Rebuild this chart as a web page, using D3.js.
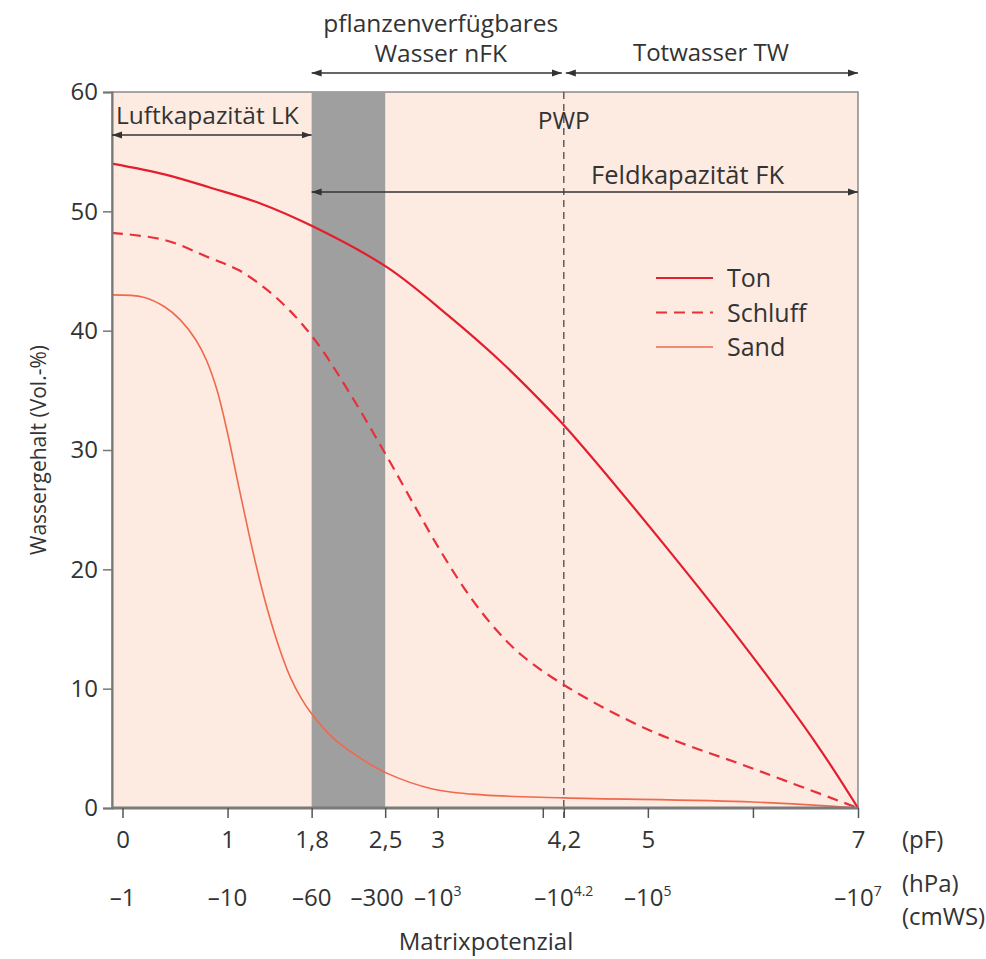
<!DOCTYPE html>
<html>
<head>
<meta charset="utf-8">
<script src="https://cdn.jsdelivr.net/npm/d3@7"></script>
<style>
  body { margin: 0; background: #fff; }
  svg text { font-family: "Open Sans", sans-serif; fill: #333; }
</style>
</head>
<body>
<div id="myChart"></div>
<script>
// pF values and water content (Vol.-%)
const tonPF = [-0.1, 0.4, 0.83, 1.3, 1.82, 2.52, 3.11, 3.59, 4.07, 4.24, 5.18, 5.97, 6.61, 7.0];
const tonVal = [54.0, 53.1, 52.0, 50.7, 48.7, 45.3, 41.2, 37.5, 33.3, 31.7, 21.8, 13.0, 5.3, 0.0];

const schluffPF = [-0.1, 0.4, 0.83, 1.1, 1.35, 1.59, 1.85, 2.16, 2.52, 2.8, 3.05, 3.3, 3.55, 3.8, 4.24, 5.02, 5.97, 7.0];
const schluffVal = [48.2, 47.6, 46.1, 45.1, 43.6, 41.7, 39.0, 34.8, 29.4, 25.0, 21.2, 17.8, 15.0, 12.8, 10.1, 6.5, 3.4, 0.0];

const sandPF = [-0.1, 0.2, 0.4, 0.55, 0.7, 0.8, 0.9, 1.0, 1.1, 1.2, 1.3, 1.4, 1.5, 1.6, 1.7, 1.8, 2.0, 2.26, 2.52, 2.95, 3.43, 4.2, 6.0, 7.0];
const sandVal = [43.0, 42.8, 42.0, 40.9, 39.2, 37.5, 35.0, 31.4, 27.2, 23.1, 19.3, 16.0, 13.2, 10.9, 9.2, 7.9, 5.9, 4.2, 2.9, 1.6, 1.1, 0.85, 0.5, 0.0];

const seriesNames = ["Ton", "Schluff", "Sand"];

// axis ticks
const pfTicks = [0, 1, 1.8, 2.5, 3, 4, 4.2, 5, 6, 7];
const pfLabels = ["0", "1", "1,8", "2,5", "3", "", "4,2", "5", "", "7"];
const hpaBase = ["\u20131", "\u201310", "\u201360", "\u2013300", "\u201310", "", "\u201310", "\u201310", "", "\u201310"];
const hpaExp = ["", "", "", "", "3", "", "4.2", "5", "", "7"];
const yTicks = [0, 10, 20, 30, 40, 50, 60];

// zones along pF
const bandFrom = 1.8, bandTo = 2.5, pwp = 4.2, pfEnd = 7;

const width = 986;
const height = 959;
const plotLeft = 112, plotRight = 858, plotTop = 92, plotBottom = 808;

const colors = { Ton: "#e31e2d", Schluff: "#e8303a", Sand: "#f0694c" };
const dashes = { Ton: null, Schluff: "11,7", Sand: null };
const widths = { Ton: 2.2, Schluff: 2.2, Sand: 1.6 };

const x = d3.scaleLinear().domain([-0.1, 7]).range([plotLeft, plotRight]);
const y = d3.scaleLinear().domain([0, 60]).range([plotBottom, plotTop]);

const svg = d3.select("#myChart")
    .append("svg")
    .attr("width", width)
    .attr("height", height);

// arrowheads
const defs = svg.append("defs");
defs.append("marker")
    .attr("id", "head")
    .attr("viewBox", "0 0 10 10")
    .attr("refX", 10).attr("refY", 5)
    .attr("markerWidth", 10).attr("markerHeight", 10)
    .attr("markerUnits", "userSpaceOnUse")
    .attr("orient", "auto-start-reverse")
    .append("path")
    .attr("d", "M0,1.5 L10,5 L0,8.5 Z")
    .attr("fill", "#333");

// plot background
svg.append("rect")
    .attr("x", plotLeft).attr("y", plotTop)
    .attr("width", plotRight - plotLeft).attr("height", plotBottom - plotTop)
    .attr("fill", "#fdebe2")
    .attr("stroke", "#8a8a8a")
    .attr("stroke-width", 1.5);

// nFK band
svg.append("rect")
    .attr("x", x(bandFrom)).attr("y", plotTop)
    .attr("width", x(bandTo) - x(bandFrom)).attr("height", plotBottom - plotTop)
    .attr("fill", "#9f9f9f");

// PWP line
svg.append("line")
    .attr("x1", x(pwp)).attr("x2", x(pwp))
    .attr("y1", plotTop).attr("y2", plotBottom + 10)
    .attr("stroke", "#555")
    .attr("stroke-width", 1.4)
    .attr("stroke-dasharray", "7,5");

// curves
const line = d3.line()
    .x(d => x(d[0]))
    .y(d => y(d[1]))
    .curve(d3.curveCatmullRom.alpha(0.5));

const series = [
    { name: "Ton", data: d3.zip(tonPF, tonVal) },
    { name: "Schluff", data: d3.zip(schluffPF, schluffVal) },
    { name: "Sand", data: d3.zip(sandPF, sandVal) }
];

svg.selectAll(".curve")
    .data(series)
    .enter().append("path")
    .attr("class", "curve")
    .attr("d", d => line(d.data))
    .attr("fill", "none")
    .attr("stroke", d => colors[d.name])
    .attr("stroke-width", d => widths[d.name])
    .attr("stroke-dasharray", d => dashes[d.name]);

// y axis
const yAxis = svg.append("g")
    .attr("transform", `translate(${plotLeft},0)`)
    .call(d3.axisLeft(y).tickValues(yTicks).tickSize(9).tickPadding(5));
yAxis.select(".domain").attr("stroke", "#777").attr("stroke-width", 2);
yAxis.selectAll(".tick line").attr("stroke", "#777").attr("stroke-width", 1.5);
yAxis.selectAll(".tick text").style("font-size", "24px").attr("fill", "#333");

svg.append("text")
    .attr("transform", "translate(46,450) rotate(-90)")
    .attr("text-anchor", "middle")
    .style("font-size", "21px")
    .text("Wassergehalt (Vol.-%)");

// x axis (pF)
const xAxis = svg.append("g")
    .attr("transform", `translate(0,${plotBottom})`)
    .call(d3.axisBottom(x).tickValues(pfTicks)
        .tickFormat((d, i) => pfLabels[i])
        .tickSize(10).tickPadding(13));
xAxis.select(".domain").attr("d", `M${plotLeft},0H${plotRight}`).attr("stroke", "#7a7a7a").attr("stroke-width", 3);
xAxis.selectAll(".tick line").attr("stroke", "#555").attr("stroke-width", 1.5);
xAxis.selectAll(".tick text").style("font-size", "24px").attr("fill", "#333");

// hPa row
const hpa = svg.selectAll(".hpa")
    .data(pfTicks)
    .enter().append("text")
    .attr("class", "hpa")
    .attr("x", (d, i) => x(d) + (i === 3 ? -8 : 0))
    .attr("y", 906)
    .attr("text-anchor", "middle")
    .style("font-size", "24px");
hpa.append("tspan").text((d, i) => hpaBase[i]);
hpa.append("tspan")
    .attr("dy", -10)
    .style("font-size", "14px")
    .text((d, i) => hpaExp[i]);

// unit labels
svg.append("text").attr("x", 902).attr("y", 848).style("font-size", "24px").text("(pF)");
svg.append("text").attr("x", 902).attr("y", 892).style("font-size", "24px").text("(hPa)");
svg.append("text").attr("x", 902).attr("y", 925).style("font-size", "24px").text("(cmWS)");
svg.append("text")
    .attr("x", 486).attr("y", 950)
    .attr("text-anchor", "middle")
    .style("font-size", "24px")
    .text("Matrixpotenzial");

// range arrows
function arrow(x1, x2, yy) {
    svg.append("line")
        .attr("x1", x1).attr("x2", x2)
        .attr("y1", yy).attr("y2", yy)
        .attr("stroke", "#333")
        .attr("stroke-width", 1.6)
        .attr("marker-start", "url(#head)")
        .attr("marker-end", "url(#head)");
}
arrow(x(bandFrom), x(pwp) - 2, 73);
arrow(x(pwp) + 2, x(pfEnd), 73);
arrow(plotLeft, x(bandFrom), 135);
arrow(x(bandFrom), x(pfEnd), 192);

const midN = (x(bandFrom) + x(pwp)) / 2;
svg.append("text").attr("x", midN + 3).attr("y", 32).attr("text-anchor", "middle")
    .style("font-size", "24.5px").text("pflanzenverfügbares");
svg.append("text").attr("x", midN + 3).attr("y", 62).attr("text-anchor", "middle")
    .style("font-size", "24.5px").text("Wasser nFK");
svg.append("text").attr("x", (x(pwp) + x(pfEnd)) / 2).attr("y", 61).attr("text-anchor", "middle")
    .style("font-size", "24px").text("Totwasser TW");
svg.append("text").attr("x", plotLeft + 4).attr("y", 124)
    .style("font-size", "24.5px").text("Luftkapazität LK");
svg.append("text").attr("x", x(pwp)).attr("y", 129).attr("text-anchor", "middle")
    .style("font-size", "24.5px").text("PWP");
svg.append("text").attr("x", x(pfEnd) - 74).attr("y", 184).attr("text-anchor", "end")
    .style("font-size", "25.5px").text("Feldkapazität FK");

// legend
const legend = svg.selectAll(".legends")
    .data(seriesNames)
    .enter().append("g")
    .attr("class", "legends")
    .attr("transform", (d, i) => `translate(656,${278 + i * 34.5})`);
legend.append("line")
    .attr("x1", 0).attr("x2", 57)
    .attr("stroke", d => colors[d])
    .attr("stroke-width", d => widths[d])
    .attr("stroke-dasharray", d => dashes[d]);
legend.append("text")
    .attr("x", 71).attr("y", 9)
    .style("font-size", "25px")
    .text(d => d);
</script>
</body>
</html>
